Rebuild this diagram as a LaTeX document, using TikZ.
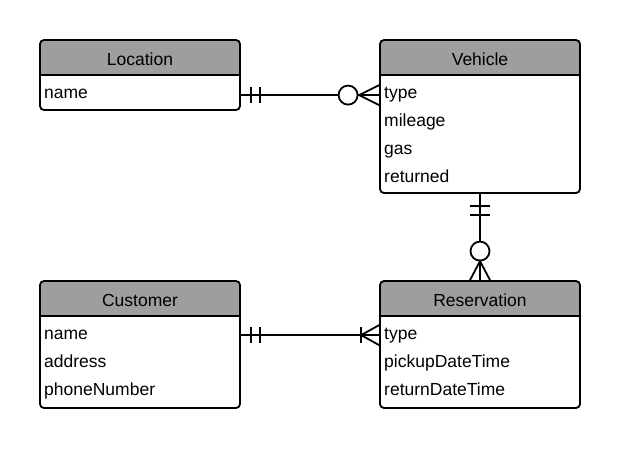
\documentclass[tikz,border=0pt]{standalone}
\usepackage{fontspec}
\setmainfont{Liberation Sans}
\usetikzlibrary{calc}
\definecolor{hdr}{RGB}{158,158,158}
\tikzset{
  entity/.style={draw=black, line width=1.8pt, rounded corners=4pt, fill=white,
    minimum width=200pt, inner sep=0pt,
    path picture={\fill[hdr] (path picture bounding box.north west) rectangle ([yshift=-35pt]path picture bounding box.north east);
      \draw[line width=1.8pt] ([yshift=-35pt]path picture bounding box.north west) -- ([yshift=-35pt]path picture bounding box.north east);}},
  title/.style={anchor=base, inner sep=0pt, font=\fontsize{17.5}{19}\selectfont},
  attr/.style={anchor=base west, inner sep=0pt, font=\fontsize{17.5}{19}\selectfont},
  conn/.style={line width=1.8pt},
}
\begin{document}
\begin{tikzpicture}[x=1pt,y=-1pt]
\useasboundingbox (0,0) rectangle (620,448);
% entities
\node[entity, minimum height=70pt] (loc) at (140,75) {};
\node[entity, minimum height=153pt] (veh) at (480,116.5) {};
\node[entity, minimum height=127pt] (cus) at (140,344.5) {};
\node[entity, minimum height=127pt] (res) at (480,344.5) {};
% titles
\node[title] (loct) at (140,65) {Location};
\node[title] (veht) at (480,65) {Vehicle};
\node[title] (cust) at (140,306) {Customer};
\node[title] (rest) at (480,306) {Reservation};
% attributes
\node[attr] (locname) at (44,98) {name};
\node[attr] (vtype) at (384,98) {type};
\node[attr] (vmil) at (384,126) {mileage};
\node[attr] (vgas) at (384,154) {gas};
\node[attr] (vret) at (384,182) {returned};
\node[attr] (cname) at (44,339) {name};
\node[attr] (caddr) at (44,367) {address};
\node[attr] (cphone) at (44,395) {phoneNumber};
\node[attr] (rtype) at (384,339) {type};
\node[attr] (rpick) at (384,367) {pickupDateTime};
\node[attr] (rret) at (384,395) {returnDateTime};
% connector endpoints
\coordinate (lv1) at ($(loc.north east)+(0,56)$);
\coordinate (lv2) at ($(veh.north west)+(0,56)$);
\coordinate (vr1) at (veh.south);
\coordinate (vr2) at (res.north);
\coordinate (cr1) at ($(cus.north east)+(0,55)$);
\coordinate (cr2) at ($(res.north west)+(0,55)$);
% Location - Vehicle : one-and-only-one to zero-or-many
\draw[conn] (lv1) -- ($(lv2)+(-40.5,0)$);
\draw[conn] ($(lv1)+(10,-8)$) -- ($(lv1)+(10,8)$);
\draw[conn] ($(lv1)+(19,-8)$) -- ($(lv1)+(19,8)$);
\draw[conn] ($(lv2)+(-31,0)$) circle (9.5);
\draw[conn] ($(lv2)+(-21.5,0)$) -- (lv2);
\draw[conn] (lv2) ++(0,-10) -- ($(lv2)+(-20,0)$) -- ($(lv2)+(0,10)$);
% Vehicle - Reservation
\draw[conn] (vr1) -- ($(vr2)+(0,-38.5)$);
\draw[conn] ($(vr1)+(-10,12)$) -- ($(vr1)+(10,12)$);
\draw[conn] ($(vr1)+(-10,21)$) -- ($(vr1)+(10,21)$);
\draw[conn] ($(vr2)+(0,-29)$) circle (9.5);
\draw[conn] ($(vr2)+(0,-19.5)$) -- (vr2);
\draw[conn] (vr2) ++(-10,0) -- ($(vr2)+(0,-19)$) -- ($(vr2)+(10,0)$);
% Customer - Reservation : one-and-only-one to one-or-many
\draw[conn] (cr1) -- (cr2);
\draw[conn] ($(cr1)+(10,-8)$) -- ($(cr1)+(10,8)$);
\draw[conn] ($(cr1)+(19,-8)$) -- ($(cr1)+(19,8)$);
\draw[conn] ($(cr2)+(-18,-8)$) -- ($(cr2)+(-18,8)$);
\draw[conn] (cr2) ++(0,-10) -- ($(cr2)+(-18,0)$) -- ($(cr2)+(0,10)$);
\end{tikzpicture}
\end{document}
